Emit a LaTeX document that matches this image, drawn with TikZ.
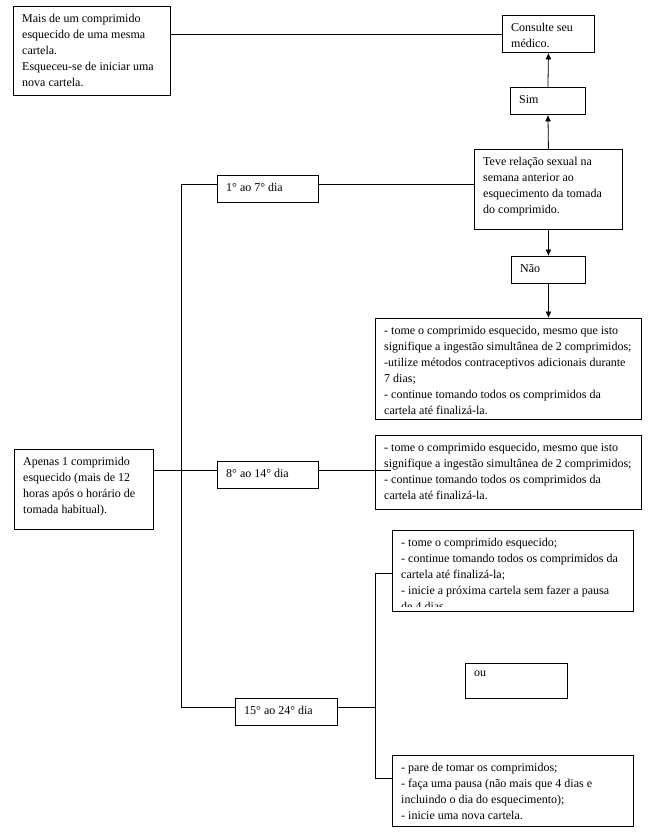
\documentclass[tikz,border=0pt]{standalone}
\usepackage{fontspec}
\setmainfont{Liberation Serif}
\usetikzlibrary{arrows.meta}

\begin{document}
\begin{tikzpicture}[x=1pt,y=-1pt,>={Latex[length=6.5pt,width=6pt]},
  box/.style={draw,line width=0.9pt,anchor=north west,inner sep=0pt},
  boxtext/.style={anchor=north west,align=left,inner xsep=9pt,inner ysep=8pt,
    font=\fontsize{12}{16}\selectfont},
  link/.style={line width=0.8pt}]
  \useasboundingbox (0,0) rectangle (651,839);

  % top row: several pills forgotten -> see the doctor
  \node[box,minimum width=157,minimum height=89] (forgotMany) at (13,6) {};
  \node[boxtext] (forgotManyText) at (forgotMany.north west)
    {Mais de um comprimido\\esquecido de uma mesma\\cartela.\\Esqueceu-se de iniciar uma\\nova cartela.};
  \node[box,minimum width=92,minimum height=37] (doctor) at (502,15) {};
  \node[boxtext] (doctorText) at (doctor.north west) {Consulte seu\\médico.};

  % question on the first week
  \node[box,minimum width=75,minimum height=27] (yes) at (510,87) {};
  \node[boxtext] (yesText) at (yes.north west) {Sim};
  \node[box,minimum width=148,minimum height=80] (sexQ) at (474,149) {};
  \node[boxtext] (sexQText) at (sexQ.north west)
    {Teve relação sexual na\\semana anterior ao\\esquecimento da tomada\\do comprimido.};
  \node[box,minimum width=74,minimum height=27] (no) at (511,256) {};
  \node[boxtext] (noText) at (no.north west) {Não};

  % day ranges
  \node[box,minimum width=101,minimum height=27] (week1) at (217,175) {};
  \node[boxtext] (week1Text) at (week1.north west) {1° ao 7° dia};
  \node[box,minimum width=101,minimum height=27] (week2) at (217,461) {};
  \node[boxtext] (week2Text) at (week2.north west) {8° ao 14° dia};
  \node[box,minimum width=102,minimum height=27] (week3) at (235,698) {};
  \node[boxtext] (week3Text) at (week3.north west) {15° ao 24° dia};

  \node[box,minimum width=139,minimum height=80] (single) at (14,449) {};
  \node[boxtext] (singleText) at (single.north west)
    {Apenas 1 comprimido\\esquecido (mais de 12\\horas após o horário de\\tomada habitual).};

  % what to do
  \node[box,minimum width=266,minimum height=101] (week1Care) at (375,318) {};
  \node[boxtext] (week1CareText) at (week1Care.north west)
    {- tome o comprimido esquecido, mesmo que isto\\signifique a ingestão simultânea de 2 comprimidos;\\-utilize métodos contraceptivos adicionais durante\\7 dias;\\- continue tomando todos os comprimidos da\\cartela até finalizá-la.};
  \node[box,minimum width=266,minimum height=74] (week2Care) at (375,435) {};
  \node[boxtext] (week2CareText) at (week2Care.north west)
    {- tome o comprimido esquecido, mesmo que isto\\signifique a ingestão simultânea de 2 comprimidos;\\- continue tomando todos os comprimidos da\\cartela até finalizá-la.};
  \node[box,minimum width=241,minimum height=81] (week3Cont) at (392,530) {};
  \begin{scope}
    % last line is cut off by the text frame
    \clip ([yshift=5pt]week3Cont.south west) rectangle (week3Cont.north east);
    \node[boxtext] (week3ContText) at (week3Cont.north west)
      {- tome o comprimido esquecido;\\- continue tomando todos os comprimidos da\\cartela até finalizá-la;\\- inicie a próxima cartela sem fazer a pausa\\de 4 dias.};
  \end{scope}
  \node[box,minimum width=102,minimum height=35] (orBox) at (465,663) {};
  \node[boxtext] (orText) at (orBox.north west) {ou};
  \node[box,minimum width=241,minimum height=71] (week3Pause) at (392,755) {};
  \node[boxtext] (week3PauseText) at (week3Pause.north west)
    {- pare de tomar os comprimidos;\\- faça uma pausa (não mais que 4 dias e\\incluindo o dia do esquecimento);\\- inicie uma nova cartela.};

  % junction points of the tree
  \coordinate (trunkTop) at (181,184);
  \coordinate (trunkBot) at (181,707);
  \coordinate (row2) at (181,470);
  \coordinate (branchTop) at (375,573);
  \coordinate (branchBot) at (375,778);

  % connectors
  \draw[link] (forgotMany.east |- doctor.west) -- (doctor.west);
  \draw[link,->] (yes.north) -- (doctor.south);
  \draw[link,->] (sexQ.north) -- (yes.south);
  \draw[link,->] (sexQ.south) -- (no.north);
  \draw[link,->] (no.south) -- (no.south |- week1Care.north);

  \draw[link] (trunkTop) -- (trunkBot);
  \draw[link] (trunkTop) -- (trunkTop -| week1.west);
  \draw[link] (trunkTop -| week1.east) -- (trunkTop -| sexQ.west);
  \draw[link] (row2 -| single.east) -- (row2 -| week2.west);
  \draw[link] (row2 -| week2.east) -- ([xshift=16pt]row2 -| week2Care.west);
  \draw[link] (trunkBot) -- (trunkBot -| week3.west);
  \draw[link] (trunkBot -| week3.east) -- (trunkBot -| branchTop);
  \draw[link] (branchTop) -- (branchBot);
  \draw[link] (branchTop) -- (branchTop -| week3Cont.west);
  \draw[link] (branchBot) -- (branchBot -| week3Pause.west);
\end{tikzpicture}
\end{document}
